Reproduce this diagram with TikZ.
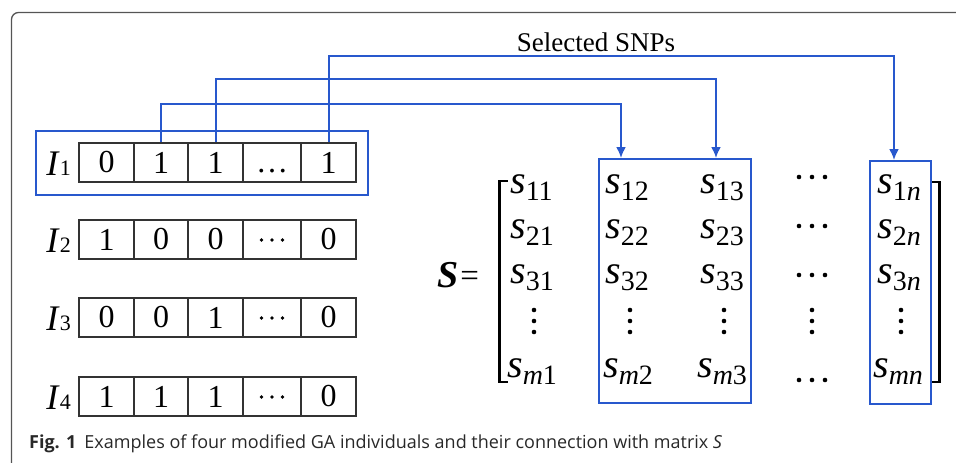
\documentclass[tikz,border=0pt]{standalone}
\usepackage{fontspec}
\setmainfont{Liberation Serif}
\newfontfamily\capfont{Open Sans}
\usetikzlibrary{arrows.meta}
\definecolor{selblue}{RGB}{40,88,205}
\definecolor{framegray}{RGB}{85,85,85}
\definecolor{captext}{RGB}{40,40,40}
\newcommand\fs[1]{\fontsize{#1}{#1}\selectfont}
\begin{document}
\begin{tikzpicture}[x=1pt,y=-1pt,
  cell/.style={draw=black!80, line width=1.1pt, minimum height=39pt, inner sep=0pt, font=\fs{32}},
  selbox/.style={draw=selblue, line width=2pt, inner sep=0pt},
  sel/.style={draw=selblue, line width=2pt},
  selarrow/.style={sel, -{Latex[length=11pt,width=10pt]}},
  ent/.style={anchor=base west, inner sep=0pt},
  lab/.style={anchor=base east, inner sep=0pt}
]
\useasboundingbox (0,0) rectangle (956,463);
% frame
\draw[framegray, line width=1.3pt, rounded corners=7pt] (11.5,470) -- (11.5,12.5) -- (962,12.5);

\newcommand\hdots[4]{\foreach \dx in {-1,0,1} \fill (#1+\dx*#3,#2) circle (#4);}
\newcommand\vdotsat[2]{\foreach \dy in {-11,0,11} \fill (#1,#2+\dy) circle (2.3pt);}

% individuals
\newcommand\cellrow[7]{%
  \node[cell, minimum width=55pt] (c#1a) at (106.5,#2+19.5) {#3};
  \node[cell, minimum width=54pt] (c#1b) at (161,#2+19.5) {#4};
  \node[cell, minimum width=55pt] (c#1c) at (215.5,#2+19.5) {#5};
  \node[cell, minimum width=58pt] (c#1d) at (272,#2+19.5) {#6};
  \node[cell, minimum width=55pt] (c#1e) at (328.5,#2+19.5) {#7};
  \node[lab] (l#1) at (71,#2+32) {\fs{36}\textit{I}\fs{22}#1};
}
\cellrow{1}{143}{0}{1}{1}{\vphantom{1}\ldots}{1}
\cellrow{2}{220}{1}{0}{0}{}{0}
\cellrow{3}{298}{0}{0}{1}{}{0}
\cellrow{4}{377}{1}{1}{1}{}{0}
\hdots{272}{240}{10.5}{1.8pt}
\hdots{272}{318}{10.5}{1.8pt}
\hdots{272}{397}{10.5}{1.8pt}

\node[selbox, minimum width=332pt, minimum height=64pt] (ind1) at (202,163) {};

% matrix
\node[anchor=base west, inner sep=0pt] (Seq) at (437,287) {{\fs{38}\bfseries\itshape S}\hspace{2pt}\raisebox{1pt}{\fs{33}=}};
\draw[line width=3.2pt] (499.5,180.5) -- (499.5,383);
\draw[line width=2pt] (498,181) -- (508,181) (498,382) -- (508,382);
\draw[line width=3.2pt] (939.5,181.5) -- (939.5,383);
\draw[line width=2pt] (941,182) -- (932,182) (941,382) -- (932,382);

\newcommand\ent[4]{\node[ent] (#1) at (#2,#3) {\fs{40}\itshape s\raisebox{-7pt}{\fs{28}\upshape #4}};}
\ent{e11}{510}{193}{11}
\ent{e21}{510}{238}{21}
\ent{e31}{510}{283}{31}
\ent{em1}{507}{377}{\textit{m}1}
\ent{e12}{605}{193}{12}
\ent{e22}{605}{238}{22}
\ent{e32}{605}{283}{32}
\ent{em2}{603}{377}{\textit{m}2}
\ent{e13}{700}{193}{13}
\ent{e23}{700}{238}{23}
\ent{e33}{700}{283}{33}
\ent{em3}{697}{377}{\textit{m}3}
\ent{e1n}{877}{193}{1\textit{n}}
\ent{e2n}{877}{238}{2\textit{n}}
\ent{e3n}{877}{283}{3\textit{n}}
\ent{emn}{873}{377}{\textit{mn}}

\hdots{812}{177}{13}{2.3pt}
\hdots{812}{226}{13}{2.3pt}
\hdots{812}{275}{13}{2.3pt}
\hdots{812}{380}{13}{2.3pt}
\vdotsat{534}{321}
\vdotsat{630}{321}
\vdotsat{724}{321}
\vdotsat{812}{321}
\vdotsat{901}{321}

\node[selbox, minimum width=152pt, minimum height=244pt] (colA) at (675,281) {};
\node[selbox, minimum width=61pt, minimum height=243pt] (colB) at (900.5,282.5) {};

% connectors
\coordinate (k1) at (621,104);
\coordinate (k2) at (716,79);
\coordinate (k3) at (894,56);
\draw[selarrow] (c1b.north) |- (k1) -- (k1 |- colA.north);
\draw[selarrow] (c1c.north) |- (k2) -- (k2 |- colA.north);
\draw[selarrow] (c1e.north) |- (k3) -- (k3 |- colB.north);

\node[anchor=base, inner sep=0pt] (snp) at (596,51) {\fs{27}Selected SNPs};

% caption
\node[anchor=base west, inner sep=0pt, text=captext] (cap) at (29,448) {\capfont\fs{18}\textbf{Fig. 1}\hspace{8pt}Examples of four modified GA individuals and their connection with matrix \textit{S}};
\end{tikzpicture}
\end{document}
